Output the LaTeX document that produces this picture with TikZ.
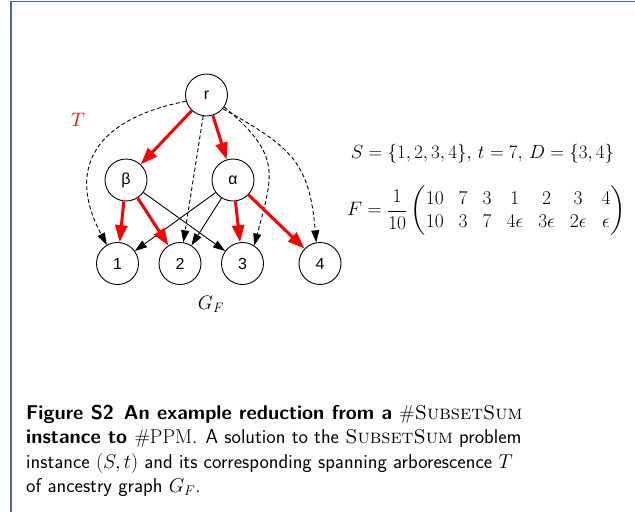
\RequirePackage{fix-cm}
\documentclass[tikz,border=0pt]{standalone}
\usepackage{amsmath}
\usepackage{fontspec}
\newfontfamily\nodefont{Liberation Sans}
\usetikzlibrary{arrows.meta}
\definecolor{framecol}{RGB}{76,104,146}
\definecolor{treered}{RGB}{255,0,0}
\tikzset{
  vert/.style={circle, draw, line width=0.9pt, minimum size=42pt, inner sep=0pt, font=\nodefont\fontsize{16}{18}\selectfont},
  treeedge/.style={draw=treered, line width=3pt, -{Triangle[length=17pt,width=12pt]}, shorten >=0pt},
  plainedge/.style={draw=black, line width=0.9pt, -{Triangle[length=12pt,width=8pt]}},
  dashedge/.style={draw=black, line width=0.9pt, dash pattern=on 4pt off 2.5pt, -{Triangle[length=12pt,width=8pt]}},
  captxt/.style={anchor=base west, inner sep=0pt, font=\sffamily\fontsize{20}{24.5}\selectfont},
  mathtxt/.style={inner sep=0pt, font=\fontsize{19.5}{23}\selectfont}
}
\begin{document}
\begin{tikzpicture}[x=1pt,y=-1pt]
\useasboundingbox (0,0) rectangle (635,512);
\draw[framecol, line width=1.6pt] (11,512) -- (11,1.5) -- (635,1.5);

\node[vert] (r) at (206.5,95) {r};
\node[vert] (b) at (126,180) {β};
\node[vert] (a) at (233,180) {α};
\node[vert] (n1) at (117.5,263.5) {1};
\node[vert] (n2) at (180,263.5) {2};
\node[vert] (n3) at (242.5,263.5) {3};
\node[vert] (n4) at (320,263.5) {4};

\node[mathtxt, text=treered] (T) at (78,120) {$T$};
\node[mathtxt] (GF) at (211,304) {$G_F$};

% dashed edges
\draw[dashedge] (r.197) to[out=191,in=118,looseness=1.4] (n1.120);
\draw[dashedge] (r) -- (n2);
\draw[dashedge] (r.326) to[out=-40,in=75,looseness=1.35] (n3.57);
\draw[dashedge] (r.320) to[out=-29,in=95,looseness=1.25] (n4.100);

% thin edges
\draw[plainedge] (b) -- (n3);
\draw[plainedge] (a) -- (n1);
\draw[plainedge] (a) -- (n2);

% tree edges
\draw[treeedge] (r) -- (b);
\draw[treeedge] (r) -- (a);
\draw[treeedge] (b) -- (n1);
\draw[treeedge] (b) -- (n2);
\draw[treeedge] (a) -- (n3);
\draw[treeedge] (a) -- (n4);

\node[mathtxt, anchor=base, font=\fontsize{19}{23}\selectfont] (Sline) at (482.5,158) {$S=\{1,2,3,4\},\, t=7,\, D=\{3,4\}$};
\node[mathtxt] (Fline) at (486.5,211) {\arraycolsep=7.5pt$F=\dfrac{1}{10}\begin{pmatrix}10&7&3&1&2&3&4\\10&3&7&4\epsilon&3\epsilon&2\epsilon&\epsilon\end{pmatrix}$};

\node[captxt] (c1) at (26,419) {\bfseries Figure S2\enspace An example reduction from a \mdseries$\#$\textrm{\textsc{SubsetSum}}};
\node[captxt] (c2) at (26,443.5) {\bfseries instance to \mdseries$\#\mathrm{PPM}$. A solution to the \textrm{\textsc{SubsetSum}} problem};
\node[captxt] (c3) at (26,468) {instance $(S,t)$ and its corresponding spanning arborescence $T$};
\node[captxt] (c4) at (26,492.5) {of ancestry graph $G_F$.};
\end{tikzpicture}
\end{document}
